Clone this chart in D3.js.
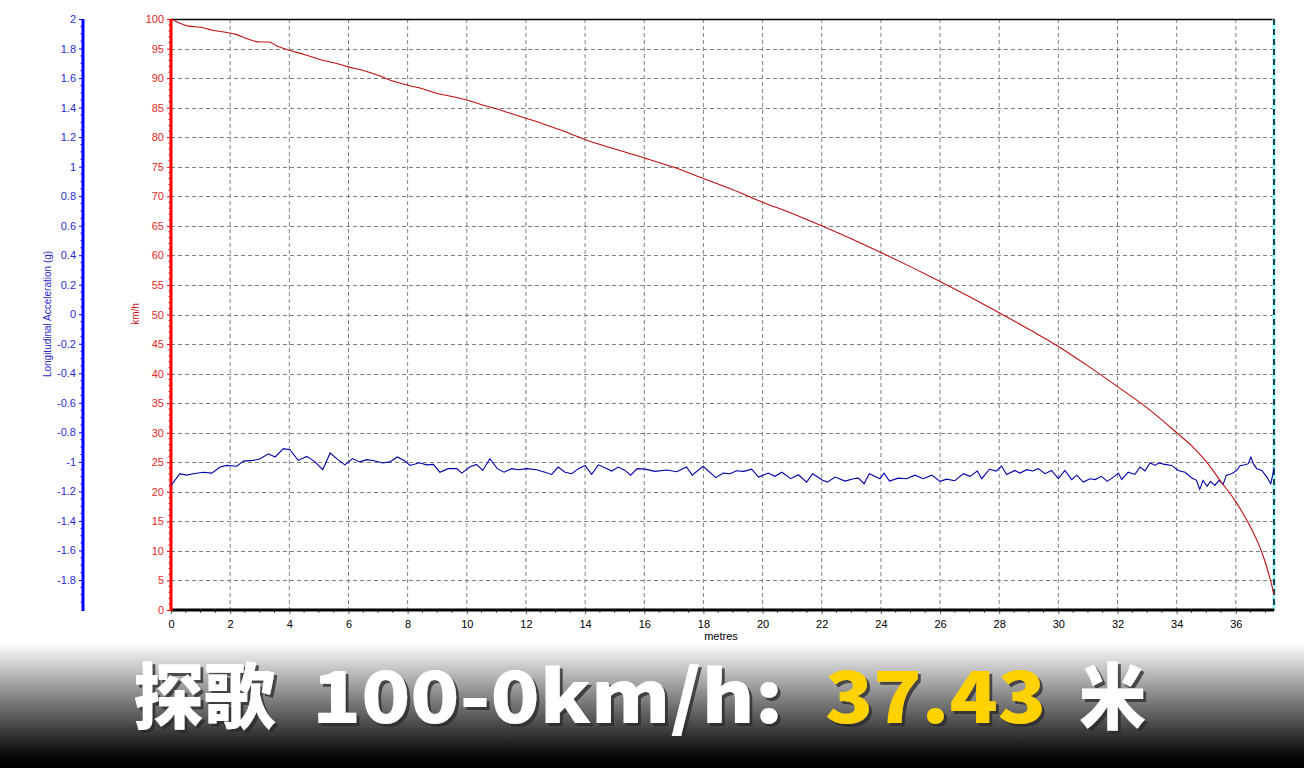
<!DOCTYPE html>
<html><head><meta charset="utf-8">
<script src="https://cdn.jsdelivr.net/npm/d3@7"></script>
<style>html,body{margin:0;padding:0;background:#fff;}svg{display:block;}</style>
</head><body>
<svg id="chart" width="1304" height="768"></svg>
<script>
// ---- data ----
const speedDist = [0,0.3,0.6,1.0,1.4,1.8,2.2,2.6,3.0,3.3,3.6,4.0,4.5,5.0,5.5,6.0,6.5,7.0,7.5,8.0,8.5,9.0,9.5,10.0,10.5,11.0,11.5,12.0,12.5,13.0,13.5,14.0,15,16,17,18,19,20,21,22,23,24,25,26,27,28,29,30,31,32,33,34,34.5,35,35.5,36,36.5,36.8,37.0,37.1,37.2,37.29];
const speedKmh = [100,99.3,98.8,98.6,98.1,97.8,97.4,96.6,96.1,96.1,95.4,94.7,94.0,93.2,92.6,91.9,91.3,90.5,89.5,88.8,88.2,87.4,86.9,86.3,85.5,84.8,84.0,83.2,82.4,81.5,80.6,79.6,78.0,76.5,74.9,73.0,71.1,69.0,67.1,65.0,62.8,60.5,58.1,55.6,53.0,50.3,47.5,44.6,41.3,37.8,34.2,30.0,27.8,25.1,21.7,18.3,14.0,10.8,8.0,6.3,4.5,2.5];
const accDist = [0,0.3,0.53,0.75,1.09,1.38,1.66,1.88,2.22,2.45,2.78,3.0,3.29,3.52,3.8,4.02,4.3,4.59,4.87,5.13,5.38,5.6,5.88,6.14,6.37,6.62,6.9,7.16,7.4,7.65,7.91,8.08,8.4,8.64,8.87,9.09,9.37,9.66,9.83,10.1,10.33,10.54,10.78,11.03,11.26,11.52,11.74,12.03,12.36,12.64,12.87,13.09,13.32,13.55,13.77,14.0,14.22,14.45,14.67,14.9,15.12,15.35,15.54,15.76,16.02,16.36,16.76,17.1,17.43,17.62,17.99,18.42,18.67,18.9,19.12,19.37,19.63,19.86,20.19,20.42,20.65,20.95,21.21,21.49,21.69,22.03,22.19,22.45,22.79,23.07,23.24,23.43,23.61,23.97,24.11,24.29,24.59,24.87,25.15,25.43,25.72,26.0,26.22,26.5,26.79,27.01,27.26,27.41,27.67,27.9,28.08,28.25,28.53,28.7,28.93,29.13,29.32,29.55,29.77,30.0,30.22,30.45,30.62,30.84,31.07,31.24,31.46,31.65,31.86,32.03,32.14,32.36,32.59,32.76,32.93,33.1,33.27,33.38,33.6,33.83,34.05,34.28,34.5,34.67,34.78,34.89,35.03,35.14,35.29,35.43,35.57,35.68,35.86,36.03,36.14,36.31,36.42,36.51,36.59,36.71,36.88,37.05,37.18,37.25,37.29];
const accG = [-1.16,-1.08,-1.09,-1.08,-1.07,-1.076,-1.035,-1.024,-1.03,-0.995,-0.99,-0.98,-0.945,-0.967,-0.91,-0.918,-0.99,-0.963,-1.0,-1.053,-0.94,-0.978,-1.02,-0.978,-1.0,-0.985,-0.994,-1.008,-1.0,-0.967,-0.994,-1.024,-1.006,-1.02,-1.017,-1.07,-1.046,-1.046,-1.076,-1.035,-1.017,-1.058,-0.978,-1.046,-1.07,-1.046,-1.053,-1.046,-1.053,-1.07,-1.085,-1.035,-1.07,-1.08,-1.046,-1.024,-1.085,-1.02,-1.04,-1.062,-1.035,-1.058,-1.09,-1.046,-1.049,-1.064,-1.055,-1.067,-1.035,-1.09,-1.03,-1.107,-1.076,-1.08,-1.06,-1.064,-1.049,-1.103,-1.076,-1.098,-1.07,-1.114,-1.087,-1.137,-1.08,-1.125,-1.137,-1.103,-1.13,-1.114,-1.11,-1.148,-1.08,-1.114,-1.076,-1.13,-1.11,-1.114,-1.09,-1.114,-1.09,-1.132,-1.117,-1.128,-1.08,-1.098,-1.062,-1.114,-1.05,-1.062,-1.028,-1.085,-1.058,-1.076,-1.053,-1.062,-1.046,-1.08,-1.058,-1.114,-1.058,-1.12,-1.09,-1.137,-1.114,-1.12,-1.098,-1.132,-1.103,-1.076,-1.12,-1.07,-1.085,-1.035,-1.062,-1.006,-1.024,-1.008,-1.017,-1.024,-1.058,-1.07,-1.107,-1.125,-1.186,-1.125,-1.166,-1.132,-1.159,-1.125,-1.152,-1.09,-1.08,-1.058,-1.026,-1.02,-1.012,-0.967,-1.012,-1.046,-1.058,-1.103,-1.148,-1.085,-1.035];
const xTicks = [0,2,4,6,8,10,12,14,16,18,20,22,24,26,28,30,32,34,36];
const speedTicks = [0,5,10,15,20,25,30,35,40,45,50,55,60,65,70,75,80,85,90,95,100];
const accTicks = [2,1.8,1.6,1.4,1.2,1,0.8,0.6,0.4,0.2,0,-0.2,-0.4,-0.6,-0.8,-1,-1.2,-1.4,-1.6,-1.8];
const xLabel = "metres", speedLabel = "km/h", accLabel = "Longitudinal Acceleration (g)";
const titleParts = ["探歌", "100-0km/h:", "37.43", "米"];

// ---- layout ----
const L = 171, R = 1274, T = 19, B = 610;
const svg = d3.select("#chart");
const x = d3.scaleLinear().domain([0, 37.29]).range([L, R]);
const yS = d3.scaleLinear().domain([0, 100]).range([B, T]);
const yA = d3.scaleLinear().domain([-2, 2]).range([609.5, T]);
const FONT = "'Liberation Sans', Arial, sans-serif";

// bottom banner gradient
const defs = svg.append("defs");
const grad = defs.append("linearGradient").attr("id","bg").attr("x1",0).attr("y1",0).attr("x2",0).attr("y2",1);
grad.append("stop").attr("offset","0%").attr("stop-color","#ffffff");
grad.append("stop").attr("offset","45%").attr("stop-color","#808080");
grad.append("stop").attr("offset","90%").attr("stop-color","#080808");
grad.append("stop").attr("offset","100%").attr("stop-color","#000000");
svg.append("rect").attr("x",0).attr("y",643).attr("width",1304).attr("height",125).attr("fill","url(#bg)");
const shadow = defs.append("filter").attr("id","ts").attr("x","-10%").attr("y","-10%").attr("width","130%").attr("height","140%");
shadow.append("feDropShadow").attr("dx",3).attr("dy",3).attr("stdDeviation",0.6).attr("flood-color","#2a2a2a").attr("flood-opacity",0.75);

// grid
const g = svg.append("g");
g.selectAll(".vg").data(xTicks.filter(d=>d>0)).join("line")
  .attr("x1",d=>x(d)).attr("x2",d=>x(d)).attr("y1",T).attr("y2",B)
  .attr("stroke","#808080").attr("stroke-width",1).attr("stroke-dasharray","4,3");
g.selectAll(".hg").data(speedTicks.filter(d=>d>0 && d<100)).join("line")
  .attr("x1",L).attr("x2",R).attr("y1",d=>Math.round(yS(d))+0.5).attr("y2",d=>Math.round(yS(d))+0.5)
  .attr("stroke","#808080").attr("stroke-width",1).attr("stroke-dasharray","4,3");

// borders
svg.append("line").attr("x1",L).attr("x2",R).attr("y1",T+0.5).attr("y2",T+0.5).attr("stroke","#000").attr("stroke-width",1.5);
svg.append("line").attr("x1",R).attr("x2",R).attr("y1",T).attr("y2",B).attr("stroke","#99ffff").attr("stroke-width",3);
svg.append("line").attr("x1",R).attr("x2",R).attr("y1",T).attr("y2",B).attr("stroke","#000").attr("stroke-width",1.5).attr("stroke-dasharray","6,4");

// x axis
const xAxis = d3.axisBottom(x).tickValues(xTicks).tickSize(4).tickPadding(6).tickFormat(d3.format("d"));
const gx = svg.append("g").attr("transform",`translate(0,${B})`).call(xAxis);
gx.select(".domain").remove();
gx.selectAll("text").attr("font-family",FONT).attr("font-size",11).attr("fill","#000");
gx.selectAll("line").attr("stroke","#555");
const xMinor = d3.range(0, 37.3, 0.5).filter(d => d % 2 !== 0);
svg.append("g").selectAll("line").data(xMinor).join("line")
  .attr("x1",d=>x(d)).attr("x2",d=>x(d)).attr("y1",B).attr("y2",B+3).attr("stroke","#555");
svg.append("line").attr("x1",L).attr("x2",R).attr("y1",B).attr("y2",B).attr("stroke","#000").attr("stroke-width",3);
svg.append("text").attr("x",721).attr("y",640).attr("text-anchor","middle")
  .attr("font-family",FONT).attr("font-size",11).attr("fill","#000").text(xLabel);

// speed axis (red)
const sAxis = d3.axisLeft(yS).tickValues(speedTicks).tickSize(4).tickPadding(3);
const gs = svg.append("g").attr("transform",`translate(${L},0)`).call(sAxis);
gs.select(".domain").remove();
gs.selectAll("line").attr("stroke","#ff0000");
gs.selectAll("text").attr("font-family",FONT).attr("font-size",11).attr("fill","#e8281e");
svg.append("g").selectAll("line").data(d3.range(0,101,1).filter(d=>d%5!==0)).join("line")
  .attr("x1",L-2.5).attr("x2",L).attr("y1",d=>yS(d)).attr("y2",d=>yS(d)).attr("stroke","#ff0000");
svg.append("line").attr("x1",L).attr("x2",L).attr("y1",T).attr("y2",B+1).attr("stroke","#ff0000").attr("stroke-width",3);
svg.append("text").attr("transform",`translate(139,314) rotate(-90)`).attr("text-anchor","middle")
  .attr("font-family",FONT).attr("font-size",10).attr("fill","#cc1111").text(speedLabel);

// acceleration axis (blue)
const AX = 83;
const aAxis = d3.axisLeft(yA).tickValues(accTicks).tickSize(4).tickPadding(3).tickFormat(d=>String(+d.toFixed(1)));
const ga = svg.append("g").attr("transform",`translate(${AX},0)`).call(aAxis);
ga.select(".domain").remove();
ga.selectAll("line").attr("stroke","#0000ff");
ga.selectAll("text").attr("font-family",FONT).attr("font-size",11).attr("fill","#2b2bd0");
const aMinor = d3.range(-40,41,1).map(d=>d*0.05).filter(d=>Math.abs(Math.round(d*5)-d*5)>1e-6);
svg.append("g").selectAll("line").data(aMinor).join("line")
  .attr("x1",AX-2.5).attr("x2",AX).attr("y1",d=>yA(d)).attr("y2",d=>yA(d)).attr("stroke","#0000ff");
svg.append("line").attr("x1",AX).attr("x2",AX).attr("y1",T).attr("y2",611).attr("stroke","#0000ff").attr("stroke-width",3);
svg.append("text").attr("transform",`translate(51,314) rotate(-90)`).attr("text-anchor","middle")
  .attr("font-family",FONT).attr("font-size",10).attr("fill","#2b2bd0").text(accLabel);

// lines
const speedData = speedDist.map((d,i)=>[d, speedKmh[i]]);
const accData = accDist.map((d,i)=>[d, accG[i]]);
svg.append("path").datum(accData).attr("fill","none").attr("stroke","#0000aa").attr("stroke-width",1.1)
  .attr("d", d3.line().x(d=>x(d[0])).y(d=>yA(d[1])));
svg.append("path").datum(speedData).attr("fill","none").attr("stroke","#c00f0f").attr("stroke-width",1.1)
  .attr("d", d3.line().x(d=>x(d[0])).y(d=>yS(d[1])).curve(d3.curveMonotoneX));

// title banner text (font-size 60, stretched vertically to match the reference's tall glyphs)
const TFONT = "'Noto Sans CJK SC', sans-serif";
const parts = [
  {t: titleParts[0], x: 133, w: 142, c: "#ffffff"},
  {t: titleParts[1], x: 312, w: 471, c: "#ffffff"},
  {t: titleParts[2], x: 825, w: 221, c: "#ffd200"},
  {t: titleParts[3], x: 1079, w: 67, c: "#ffffff"}
];
const tg = svg.append("g").attr("filter","url(#ts)");
parts.forEach(p => {
  tg.append("text").attr("transform",`translate(${p.x},723) scale(1,1.18)`).attr("x",0).attr("y",0)
    .attr("textLength",p.w).attr("lengthAdjust","spacingAndGlyphs")
    .attr("font-family",TFONT).attr("font-weight",900).attr("font-size",61).attr("fill",p.c).text(p.t);
});
</script>
</body></html>
